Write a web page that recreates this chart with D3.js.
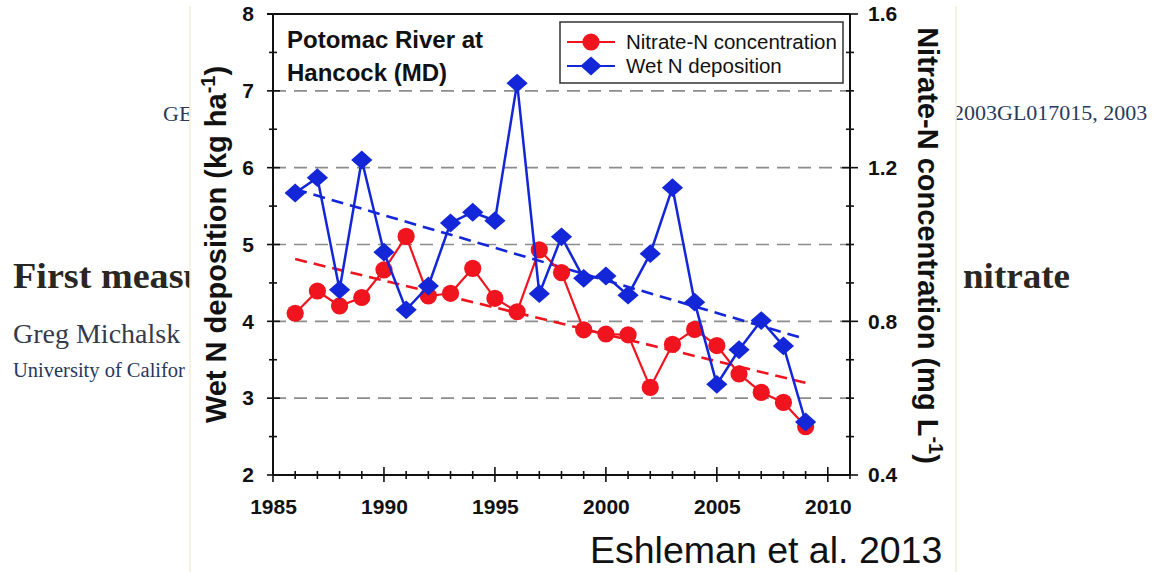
<!DOCTYPE html>
<html>
<head>
<meta charset="utf-8">
<script src="https://cdn.jsdelivr.net/npm/d3@7"></script>
<style>
  html, body { margin: 0; padding: 0; background: #ffffff; }
  svg { display: block; }
</style>
</head>
<body>
<svg id="chart" width="1167" height="572"></svg>
<script>
// Potomac River at Hancock (MD): annual wet N deposition and stream nitrate-N
const years = [1986, 1987, 1988, 1989, 1990, 1991, 1992, 1993, 1994, 1995, 1996, 1997,
               1998, 1999, 2000, 2001, 2002, 2003, 2004, 2005, 2006, 2007, 2008, 2009];
// Wet N deposition, kg ha-1 (left axis)
const wetDeposition = [5.67, 5.87, 4.41, 6.10, 4.90, 4.15, 4.46, 5.28, 5.42, 5.31, 7.10, 4.36,
                       5.10, 4.56, 4.59, 4.34, 4.88, 5.74, 4.25, 3.18, 3.63, 4.01, 3.68, 2.69];
// Nitrate-N concentration, mg L-1 (right axis)
const nitrateN = [0.821, 0.879, 0.840, 0.862, 0.934, 1.021, 0.866, 0.873, 0.938, 0.860, 0.825, 0.986,
                  0.927, 0.778, 0.767, 0.765, 0.628, 0.740, 0.779, 0.737, 0.663, 0.615, 0.589, 0.526];
// Linear trends (end points)
const depositionTrend = [[1986, 5.72], [2009, 3.77]];
const nitrateTrend = [[1986, 0.962], [2009, 0.640]];

const xTickLabels = [1985, 1990, 1995, 2000, 2005, 2010];
const leftTickLabels = [2, 3, 4, 5, 6, 7, 8];
const rightTickLabels = [0.4, 0.8, 1.2, 1.6];
const gridValues = [3, 4, 5, 6, 7];
const seriesNames = ["Nitrate-N concentration", "Wet N deposition"];

const BLUE = "#1326d8";
const RED = "#f0141e";
const SANS = "'Liberation Sans', Arial, Helvetica, sans-serif";
const SERIF = "'Liberation Serif', 'Times New Roman', serif";

const svg = d3.select("#chart");

// ---- page text lying behind the figure panel ----
const defs = svg.append("defs");
defs.append("clipPath").attr("id", "leftPage")
  .append("rect").attr("x", 0).attr("y", 0).attr("width", 190).attr("height", 572);
defs.append("clipPath").attr("id", "rightPage")
  .append("rect").attr("x", 956).attr("y", 0).attr("width", 211).attr("height", 572);

const pageL = svg.append("g").attr("clip-path", "url(#leftPage)");
const pageR = svg.append("g").attr("clip-path", "url(#rightPage)");

pageL.append("text").attr("x", 163).attr("y", 121)
  .style("font-family", SERIF).style("font-size", "22px").attr("fill", "#2a3a5a")
  .text("GE");
pageL.append("text").attr("transform", "translate(13,288) scale(1.06,1)")
  .style("font-family", SERIF).style("font-size", "36px").style("font-weight", "bold")
  .attr("fill", "#2a2622").text("First measu");
pageL.append("text").attr("x", 13).attr("y", 343)
  .style("font-family", SERIF).style("font-size", "28px").attr("fill", "#343b4a")
  .text("Greg Michalsk");
pageL.append("text").attr("x", 13).attr("y", 377)
  .style("font-family", SERIF).style("font-size", "20.5px").attr("fill", "#26375a")
  .text("University of Califor");

pageR.append("text").attr("x", 953).attr("y", 120)
  .style("font-family", SERIF).style("font-size", "22px").attr("fill", "#2a3a5a")
  .text("2003GL017015, 2003");
pageR.append("text").attr("transform", "translate(963,288) scale(1.03,1)")
  .style("font-family", SERIF).style("font-size", "36px").style("font-weight", "bold")
  .attr("fill", "#2a2622").text("nitrate");

// faint panel edges
svg.append("line").attr("x1", 190).attr("x2", 190).attr("y1", 6).attr("y2", 572)
  .attr("stroke", "#f4ecd9").attr("stroke-width", 1.5);
svg.append("line").attr("x1", 956).attr("x2", 956).attr("y1", 6).attr("y2", 572)
  .attr("stroke", "#f4ecd9").attr("stroke-width", 1.5);

// ---- scales ----
const x = d3.scaleLinear().domain([1985, 2011]).range([273, 850]);
const yL = d3.scaleLinear().domain([2, 8]).range([475, 14]);
const yR = d3.scaleLinear().domain([0.4, 1.6]).range([475, 14]);

const [x0, x1] = x.range();
const [yb, yt] = yL.range();

// ---- grid ----
svg.append("g").selectAll("line").data(gridValues).join("line")
  .attr("x1", x0).attr("x2", x1)
  .attr("y1", d => yL(d)).attr("y2", d => yL(d))
  .attr("stroke", "#8c8c8c").attr("stroke-width", 1.6)
  .attr("stroke-dasharray", "13,8");

// ---- frame ----
const frame = svg.append("g").attr("stroke", "#111").attr("stroke-width", 2).attr("fill", "none");
frame.append("line").attr("x1", x0 - 6).attr("x2", x1).attr("y1", yt).attr("y2", yt);
frame.append("line").attr("x1", x0).attr("x2", x1).attr("y1", yb).attr("y2", yb);
frame.append("line").attr("x1", x0).attr("x2", x0).attr("y1", yt).attr("y2", yb);
frame.append("line").attr("x1", x1).attr("x2", x1).attr("y1", yt).attr("y2", yb);

// tick marks crossing the axes
const tickG = svg.append("g").attr("stroke", "#111").attr("stroke-width", 1.6);
const leftTicks = yL.ticks(12);
tickG.selectAll(".tl").data(leftTicks).join("line").attr("class", "tl")
  .attr("x1", d => x0 - (Number.isInteger(d) ? 6 : 4))
  .attr("x2", d => x0 + (Number.isInteger(d) ? 7 : 4))
  .attr("y1", d => yL(d)).attr("y2", d => yL(d));
const rightTicks = yR.ticks(12);
const isMajorR = d => rightTickLabels.some(v => Math.abs(v - d) < 1e-6);
tickG.selectAll(".tr").data(rightTicks).join("line").attr("class", "tr")
  .attr("x1", d => x1 - (isMajorR(d) ? 8 : 4))
  .attr("x2", d => x1 + (isMajorR(d) ? 8 : 4))
  .attr("y1", d => yR(d)).attr("y2", d => yR(d));
const xTicks = d3.range(x.domain()[0], x.domain()[1] + 1);
tickG.selectAll(".tx").data(xTicks).join("line").attr("class", "tx")
  .attr("x1", d => x(d)).attr("x2", d => x(d))
  .attr("y1", d => yb - (d % 5 === 0 ? 8 : 4))
  .attr("y2", d => yb + (d % 5 === 0 ? 7 : 4));

// ---- axis labels via d3 axes ----
function styleAxis(g) {
  g.select(".domain").remove();
  g.selectAll(".tick line").remove();
  g.selectAll("text").style("font-family", SANS).style("font-size", "21px")
    .style("font-weight", "bold").attr("fill", "#111");
}
svg.append("g").attr("transform", `translate(${x0},0)`)
  .call(d3.axisLeft(yL).tickValues(leftTickLabels).tickSize(0).tickPadding(19).tickFormat(d3.format("d")))
  .call(styleAxis);
svg.append("g").attr("transform", `translate(${x1},0)`)
  .call(d3.axisRight(yR).tickValues(rightTickLabels).tickSize(0).tickPadding(18).tickFormat(d3.format(".1f")))
  .call(styleAxis);
svg.append("g").attr("transform", `translate(0,${yb})`)
  .call(d3.axisBottom(x).tickValues(xTickLabels).tickSize(0).tickPadding(24).tickFormat(d3.format("d")))
  .call(styleAxis);

// axis titles
const leftTitle = svg.append("text")
  .attr("transform", `translate(226,${(yb + yt) / 2}) rotate(-90)`)
  .attr("text-anchor", "middle")
  .style("font-family", SANS).style("font-size", "29px").style("font-weight", "bold").attr("fill", "#111");
leftTitle.append("tspan").text("Wet N deposition (kg ha");
leftTitle.append("tspan").attr("dy", -11).style("font-size", "20px").text("-1");
leftTitle.append("tspan").attr("dy", 11).text(")");

const rightTitle = svg.append("text")
  .attr("transform", `translate(918,${(yb + yt) / 2 + 1}) rotate(90)`)
  .attr("text-anchor", "middle")
  .style("font-family", SANS).style("font-size", "29px").style("font-weight", "bold").attr("fill", "#111");
rightTitle.append("tspan").text("Nitrate-N concentration (mg L");
rightTitle.append("tspan").attr("dy", -11).style("font-size", "20px").text("-1");
rightTitle.append("tspan").attr("dy", 11).text(")");

// ---- trend lines ----
const trendLineL = d3.line().x(d => x(d[0])).y(d => yL(d[1]));
const trendLineR = d3.line().x(d => x(d[0])).y(d => yR(d[1]));
svg.append("path").attr("d", trendLineL(depositionTrend))
  .attr("fill", "none").attr("stroke", BLUE).attr("stroke-width", 2.6).attr("stroke-dasharray", "12,7");
svg.append("path").attr("d", trendLineR(nitrateTrend))
  .attr("fill", "none").attr("stroke", RED).attr("stroke-width", 2.6).attr("stroke-dasharray", "12,7");

// ---- nitrate series (circles) ----
const nitrateData = years.map((yr, i) => ({ year: yr, value: nitrateN[i] }));
const depData = years.map((yr, i) => ({ year: yr, value: wetDeposition[i] }));

svg.append("path").datum(nitrateData)
  .attr("d", d3.line().x(d => x(d.year)).y(d => yR(d.value)))
  .attr("fill", "none").attr("stroke", RED).attr("stroke-width", 2.2);
svg.append("g").selectAll("circle").data(nitrateData).join("circle")
  .attr("cx", d => x(d.year)).attr("cy", d => yR(d.value)).attr("r", 8.6)
  .attr("fill", RED);

// ---- deposition series (diamonds) ----
const diamond = d3.symbol(d3.symbolSquare, 200);
svg.append("path").datum(depData)
  .attr("d", d3.line().x(d => x(d.year)).y(d => yL(d.value)))
  .attr("fill", "none").attr("stroke", BLUE).attr("stroke-width", 2.5);
svg.append("g").selectAll("path").data(depData).join("path")
  .attr("d", diamond)
  .attr("transform", d => `translate(${x(d.year)},${yL(d.value)}) scale(1.06,0.94) rotate(45)`)
  .attr("fill", BLUE);

// ---- site title ----
const title = svg.append("text")
  .style("font-family", SANS).style("font-size", "24px").style("font-weight", "bold").attr("fill", "#111");
title.append("tspan").attr("x", 287).attr("y", 48).text("Potomac River at");
title.append("tspan").attr("x", 287).attr("y", 81).text("Hancock (MD)");

// ---- legend ----
const legend = svg.append("g");
legend.append("rect").attr("x", 560).attr("y", 22).attr("width", 283).attr("height", 61)
  .attr("fill", "#fff").attr("stroke", "#333").attr("stroke-width", 1.5);
const legendRows = [
  { name: seriesNames[0], color: RED, y: 42, mark: "circle" },
  { name: seriesNames[1], color: BLUE, y: 66, mark: "diamond" }
];
legendRows.forEach(r => {
  legend.append("line").attr("x1", 567).attr("x2", 615).attr("y1", r.y).attr("y2", r.y)
    .attr("stroke", r.color).attr("stroke-width", 2.2);
  if (r.mark === "circle") {
    legend.append("circle").attr("cx", 591).attr("cy", r.y).attr("r", 8.6).attr("fill", r.color);
  } else {
    legend.append("path").attr("d", diamond)
      .attr("transform", `translate(591,${r.y}) scale(1.06,0.94) rotate(45)`).attr("fill", r.color);
  }
  legend.append("text").attr("x", 626).attr("y", r.y + 7)
    .style("font-family", SANS).style("font-size", "20.5px").attr("fill", "#111").text(r.name);
});

// ---- source credit ----
svg.append("text").attr("x", 590).attr("y", 563)
  .style("font-family", SANS).style("font-size", "37.5px").attr("fill", "#111")
  .text("Eshleman et al. 2013");
</script>
</body>
</html>
